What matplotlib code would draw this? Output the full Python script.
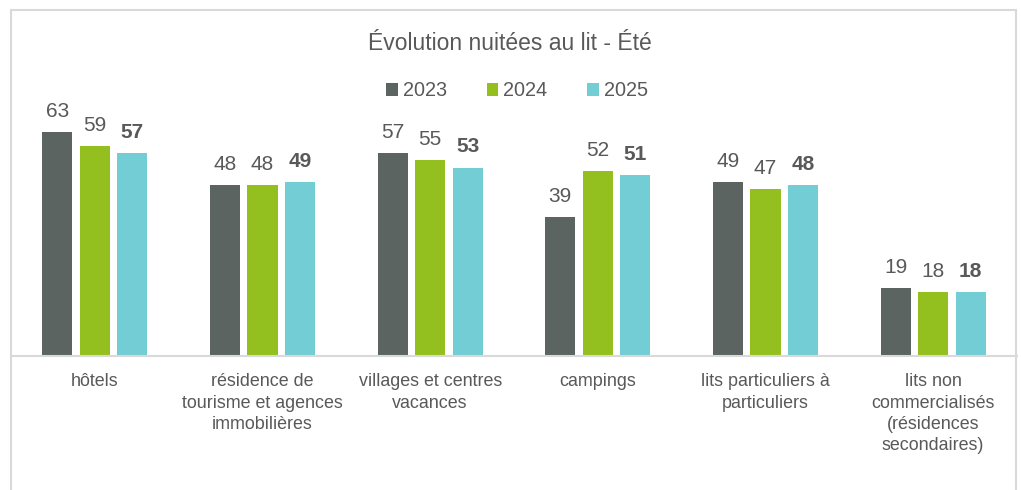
import numpy as np
import matplotlib
matplotlib.use("Agg")
import matplotlib.pyplot as plt
from matplotlib.patches import Rectangle

categories = ["hôtels", "résidence de\ntourisme et agences\nimmobilières",
              "villages et centres\nvacances", "campings",
              "lits particuliers à\nparticuliers",
              "lits non\ncommercialisés\n(résidences\nsecondaires)"]
years = ["2023", "2024", "2025"]
v2023 = [63, 48, 57, 39, 49, 19]
v2024 = [59, 48, 55, 52, 47, 18]
v2025 = [57, 49, 53, 51, 48, 18]

colors = ["#5b6460", "#93c01f", "#72cdd4"]
txt = "#595959"
plt.rcParams["font.family"] = ["Liberation Sans", "DejaVu Sans"]

fig = plt.figure(figsize=(10.21, 4.90), dpi=100)
ax = fig.add_axes([11 / 1021, 1 - 356 / 490, 1006 / 1021, 256 / 490])

x = np.arange(len(categories))
w = 0.18
step = 0.224
for i, (vals, c) in enumerate(zip([v2023, v2024, v2025], colors)):
    bars = ax.bar(x + (i - 1) * step, vals, w, color=c, label=years[i])
    for b, v in zip(bars, vals):
        ax.annotate(str(v), (b.get_x() + b.get_width() / 2, v),
                    xytext=(0, 8), textcoords="offset points",
                    ha="center", va="bottom", fontsize=15, color=txt,
                    fontweight="bold" if i == 2 else "normal")

ax.set_xlim(-0.5, len(categories) - 0.5)
ax.set_ylim(0, 256 / (224 / 63))
ax.set_xticks(x)
ax.set_xticklabels(categories, fontsize=12.9, color=txt, linespacing=1.33, va="top")
ax.tick_params(axis="x", length=0, pad=12.5)
ax.set_yticks([])
for s in ["top", "left", "right"]:
    ax.spines[s].set_visible(False)
ax.spines["bottom"].set_color("#d9d9d9")
ax.spines["bottom"].set_linewidth(1.5)

fig.text(510 / 1021, 1 - 43 / 490, "Évolution nuitées au lit - Été",
         ha="center", va="center", fontsize=16.5, color=txt)

leg = fig.legend(loc="center", bbox_to_anchor=(517 / 1021, 1 - 91 / 490), ncol=3,
                 frameon=False, fontsize=14.3, handlelength=0.6, handleheight=0.6,
                 handletextpad=0.25, columnspacing=2.0)
for t in leg.get_texts():
    t.set_color(txt)

fig.patches.append(Rectangle((11 / 1021, -0.1), 1005 / 1021, 1.1 - 10 / 490,
                             transform=fig.transFigure, fill=False,
                             edgecolor="#d9d9d9", linewidth=1.5))

fig.savefig("out.png", dpi=100)
